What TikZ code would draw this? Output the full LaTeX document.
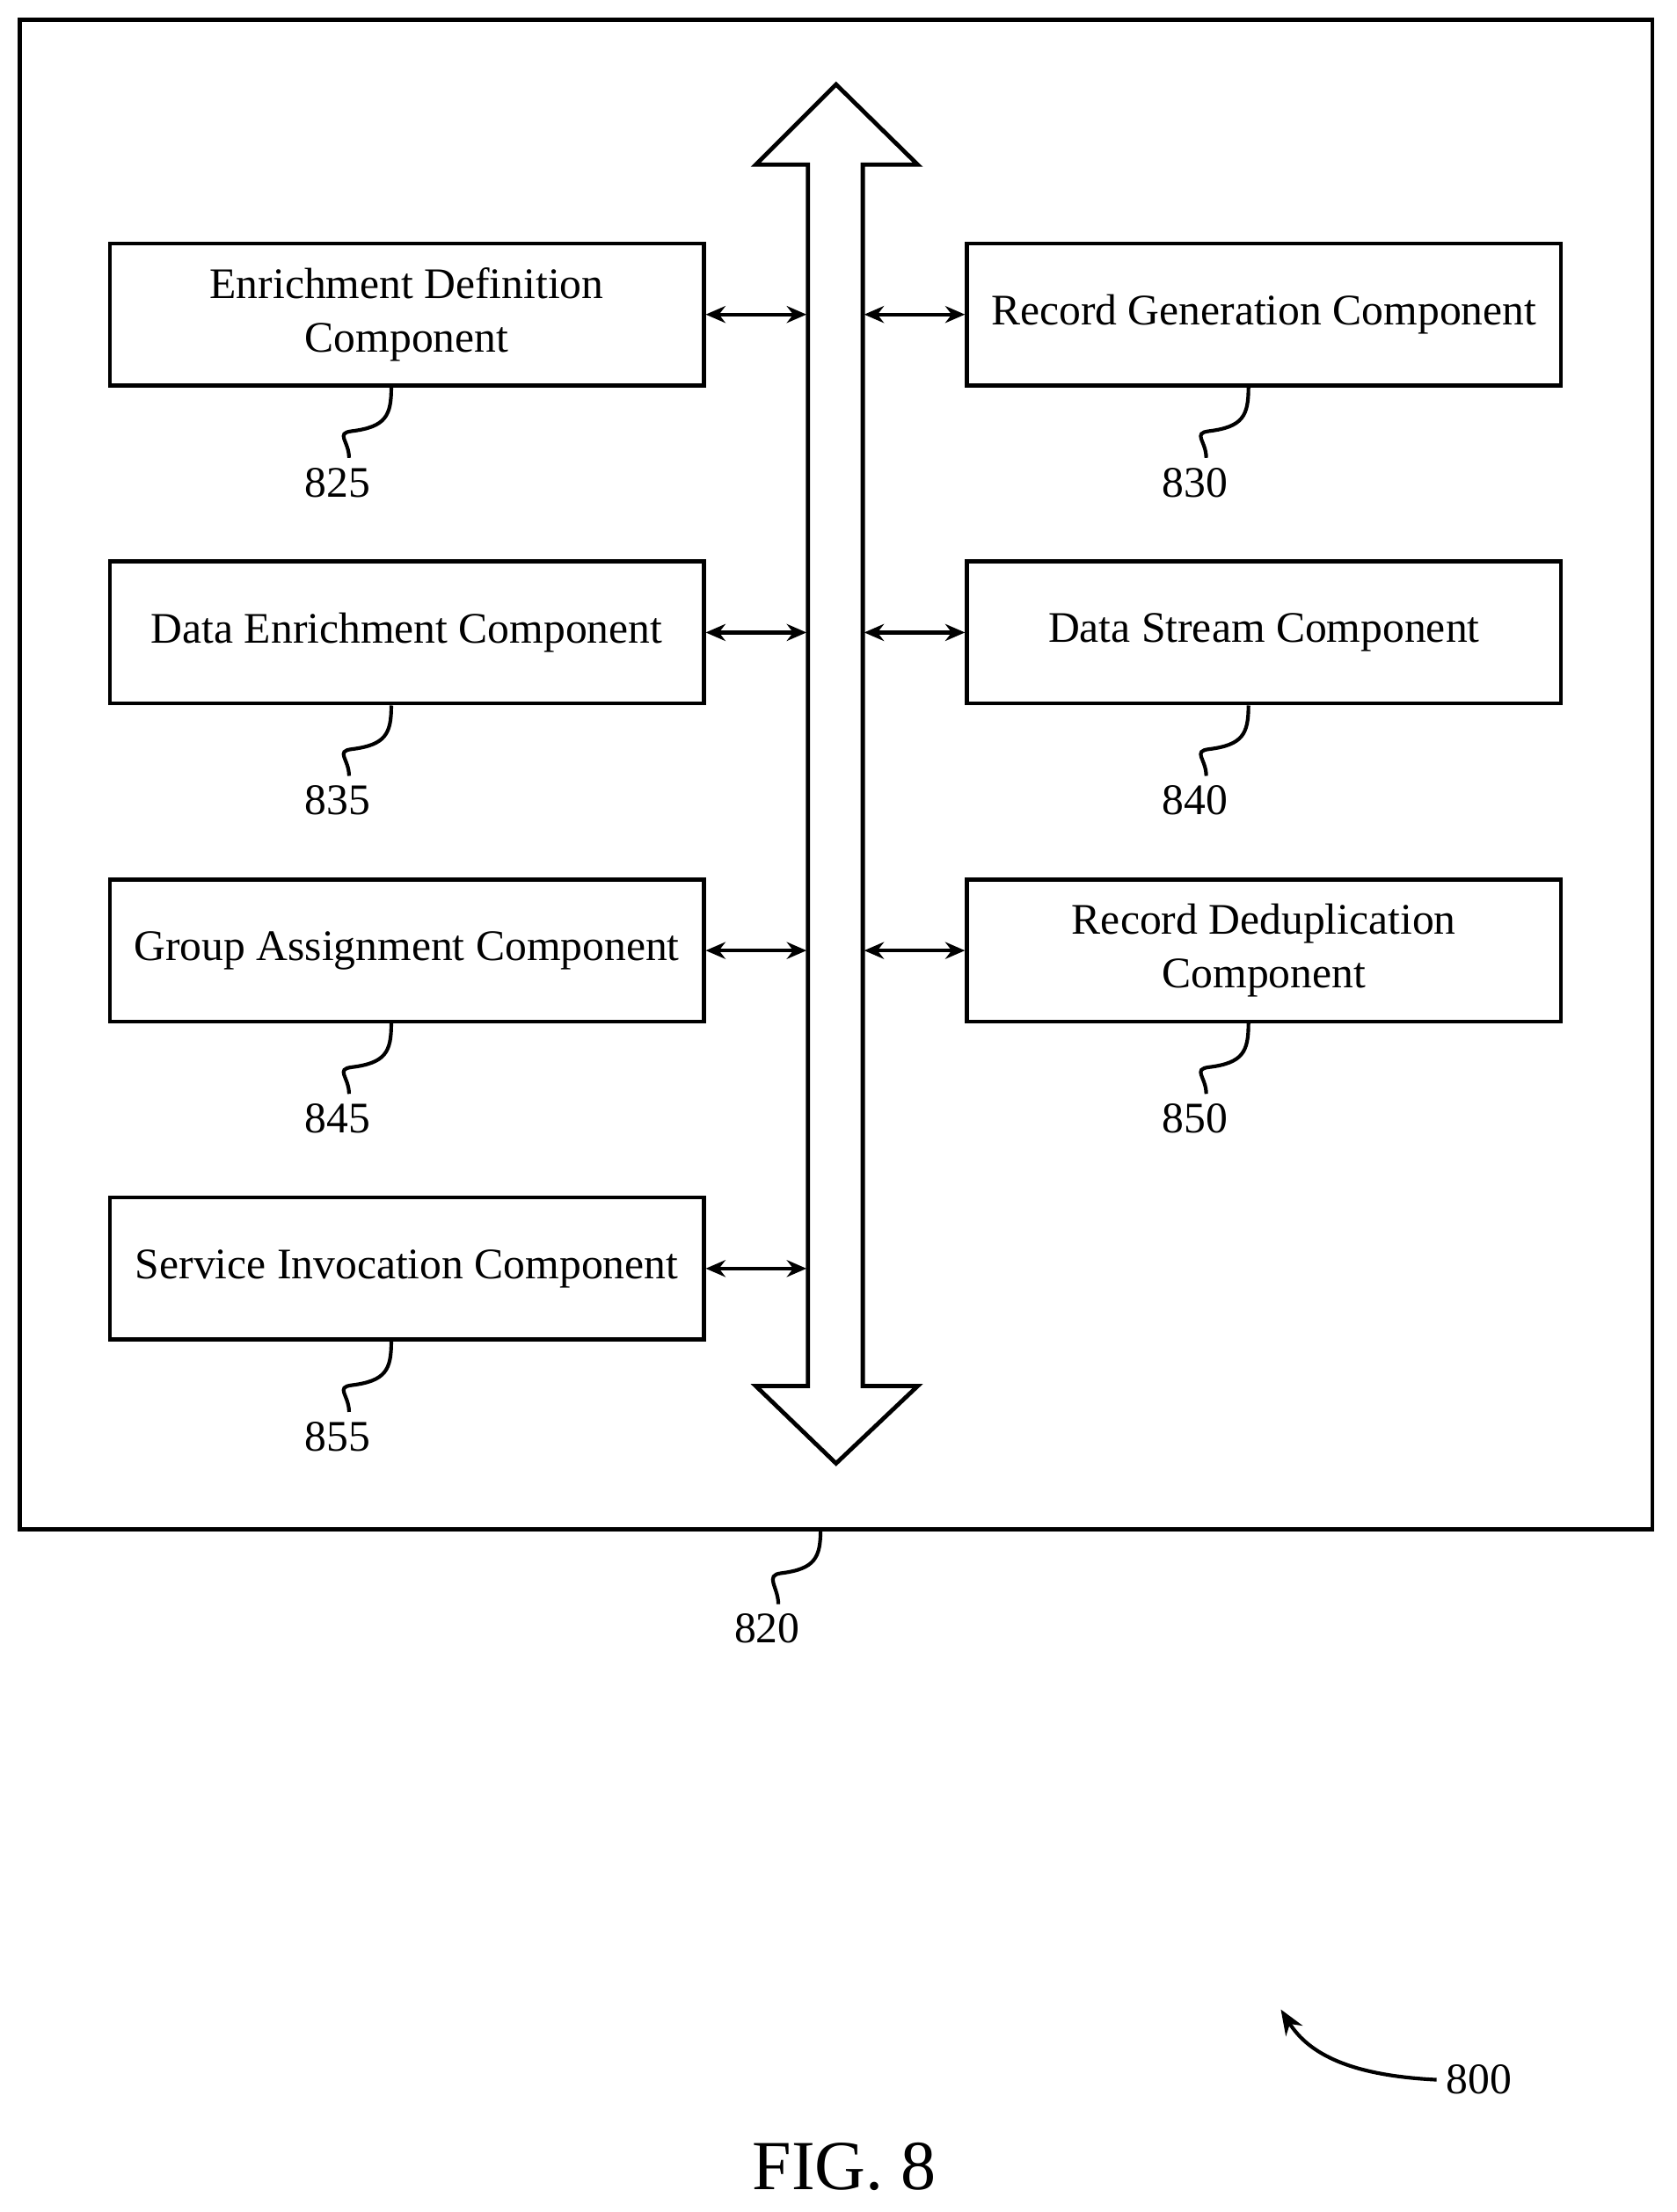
\documentclass[tikz,border=0pt]{standalone}
\usepackage{fontspec}
\setmainfont{Liberation Serif}
\usetikzlibrary{arrows.meta}
\begin{document}
\begin{tikzpicture}[x=0.5pt,y=-0.5pt,
  box/.style={draw,line width=1.4pt,minimum width=211pt,minimum height=50.5pt,inner sep=0pt,align=center,font=\fontsize{15.5}{19}\selectfont},
  lbl/.style={font=\fontsize{15.5}{19}\selectfont},
  conn/.style={line width=1.3pt,{Stealth[length=7pt,width=6pt]}-{Stealth[length=7pt,width=6pt]}},
  lead/.style={line width=1.3pt}]
\useasboundingbox (0,0) rectangle (1191,1572);
\draw[line width=1.5pt] (14,14) rectangle (1174,1087);
\draw[line width=1.5pt,fill=white] (574,117) -- (537,117) -- (594,60) -- (652,117) -- (613,117) -- (613,985) -- (652,985) -- (594,1040) -- (537,985) -- (574,985) -- cycle;
\node[box] (a) at (289,223.5) {Enrichment Definition\\Component};
\node[box] (b) at (898,223.5) {Record Generation Component};
\node[box] (c) at (289,449.5) {Data Enrichment Component};
\node[box] (d) at (898,449.5) {Data Stream Component};
\node[box] (e) at (289,675.5) {Group Assignment Component};
\node[box] (f) at (898,675.5) {Record Deduplication\\Component};
\node[box] (g) at (289,901.5) {Service Invocation Component};
\coordinate (bl) at (573,0); \coordinate (br) at (614,0);
\foreach \n in {a,c,e,g} \draw[conn] (\n.east) -- (\n.east -| bl);
\foreach \n in {b,d,f} \draw[conn] (\n.west) -- (\n.west -| br);
\foreach \n/\t/\s in {a/825/-11,c/835/-11,e/845/-11,g/855/-11,b/830/-11,d/840/-11,f/850/-11} {
  \node[lbl,anchor=north] (l\t) at ([xshift=-24.5pt,yshift=-25pt]\n.south) {\t};
  \draw[lead] ([xshift=-5.5pt]\n.south) .. controls +(0,20) and +(24,-3) .. +(-28,31) .. controls +(-12,1.5) and +(0,-12) .. ([xshift=4pt]l\t.north);
}
\coordinate (o) at (583,1087);
\node[lbl,anchor=north] (l820) at (545,1140) {820};
\draw[lead] (o) .. controls +(0,20) and +(24,-3) .. +(-28,31) .. controls +(-12,1.5) and +(0,-12) .. ([xshift=4pt]l820.north);
\node[lbl] (l800) at (1051,1478) {800};
\coordinate (t800) at (910,1428);
\draw[lead,-{Stealth[length=9pt,width=7pt]}] (l800.west) .. controls (960,1475) and (930,1460) .. (t800);
\node[font=\fontsize{25}{30}\selectfont] (fig) at (600,1540) {FIG. 8};
\end{tikzpicture}
\end{document}
